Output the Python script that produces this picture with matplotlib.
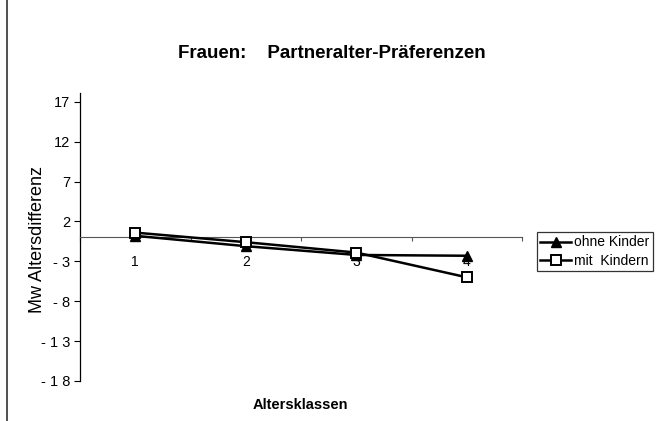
import matplotlib.pyplot as plt
from matplotlib.lines import Line2D

# Daten
klassen = [1, 2, 3, 4]
ohne_kinder = [0.2, -1.1, -2.2, -2.3]
mit_kindern = [0.6, -0.6, -1.9, -5.0]
y_ticks = [17, 12, 7, 2, -3, -8, -13, -18]
y_labels = ["17", "12", "7", "2", "- 3", "- 8", "- 1 3", "- 1 8"]

plt.rcParams['font.family'] = ['Liberation Sans', 'DejaVu Sans']

fig = plt.figure(figsize=(6.67, 4.21), dpi=100)
ax = fig.add_axes([80 / 667, 40 / 421, 442 / 667, 288 / 421])

ax.plot(klassen, ohne_kinder, color='black', lw=1.8, marker='^', ms=7,
        mfc='black', mec='black', label='ohne Kinder', zorder=3)
ax.plot(klassen, mit_kindern, color='black', lw=1.8, marker='s', ms=6.5,
        mfc='white', mec='black', mew=1.4, label='mit  Kindern', zorder=4)

ax.set_xlim(0.5, 4.5)
ax.set_ylim(-18, 18.1)

# Achsen
for s in ['top', 'right']:
    ax.spines[s].set_visible(False)
ax.spines['bottom'].set_position(('data', 0))
ax.spines['bottom'].set_color('#555555')
ax.spines['bottom'].set_linewidth(0.8)
ax.spines['left'].set_linewidth(0.9)

ax.set_xticks([0.5, 1.5, 2.5, 3.5, 4.5])
ax.set_xticklabels([])
ax.set_xticks(klassen, minor=True)
ax.set_xticklabels([str(k) for k in klassen], minor=True)
ax.tick_params(axis='x', which='major', direction='out', length=3, color='#555555')
ax.tick_params(axis='x', which='minor', length=0, pad=13, labelsize=10)

ax.set_yticks(y_ticks)
ax.set_yticklabels(y_labels)
ax.tick_params(axis='y', direction='out', length=4, labelsize=10.5, pad=3)

fig.text(38 / 667, 0.43, 'Mw Altersdifferenz', rotation=90, ha='center',
         va='center', fontsize=13)

fig.text(0.497, 0.873, 'Frauen:    Partneralter-Präferenzen', ha='center',
         va='center', fontsize=13.5, fontweight='bold')
fig.text(0.451, 0.038, 'Altersklassen', ha='center', va='center',
         fontsize=10.5, fontweight='bold')

leg = ax.legend(loc='upper left', bbox_to_anchor=(537 / 667, 189 / 421),
                bbox_transform=fig.transFigure, frameon=True, fancybox=False,
                fontsize=10, handlelength=2.2, handletextpad=0.2,
                borderpad=0.25, labelspacing=0.3, borderaxespad=0)
leg.get_frame().set_edgecolor('black')
leg.get_frame().set_linewidth(0.9)

# Seitenrand links
fig.add_artist(Line2D([7 / 667, 7 / 667], [0, 1], transform=fig.transFigure,
                      color='#333333', lw=1.2))

fig.savefig('out.png', dpi=100)
